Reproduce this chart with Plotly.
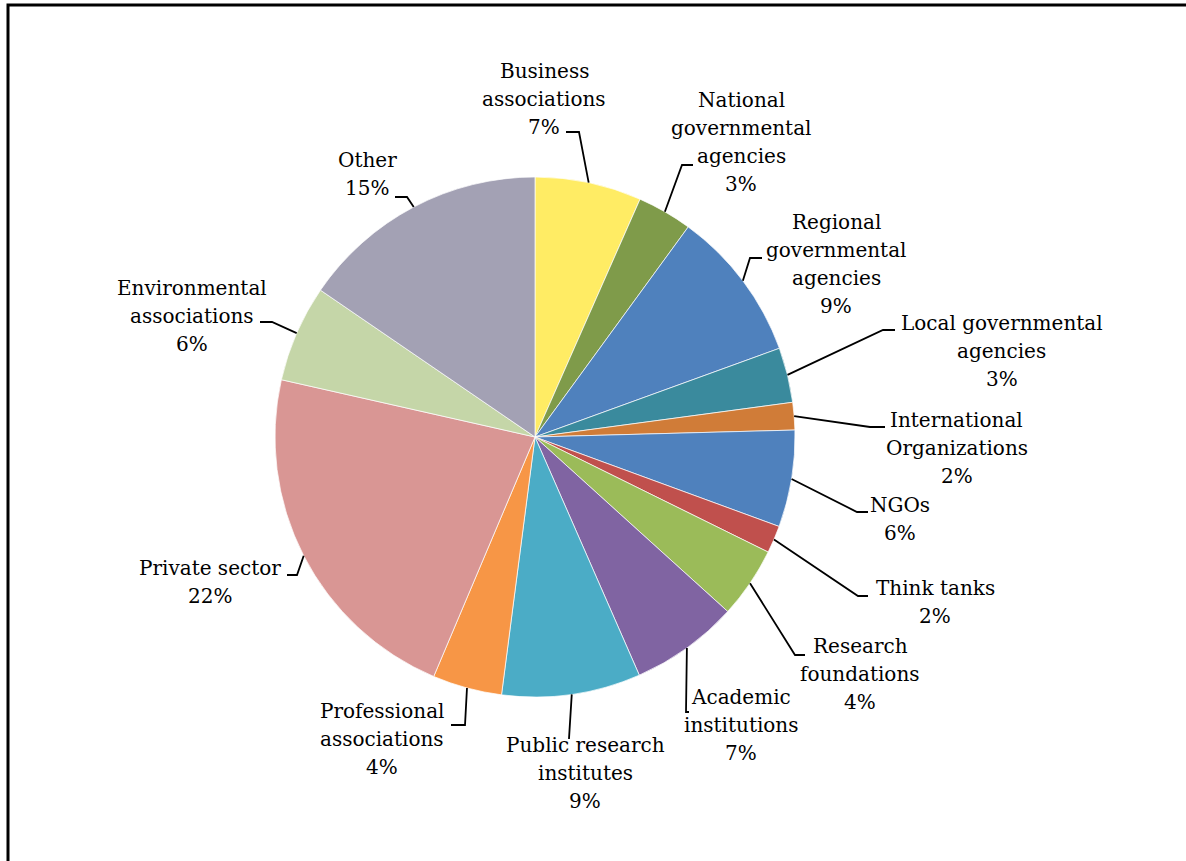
import math
import plotly.graph_objects as go

W, H = 1186, 861

# Respondent types (share of respondents, %), clockwise from 12 o'clock
categories = [
    "Business associations",
    "National governmental agencies",
    "Regional governmental agencies",
    "Local governmental agencies",
    "International Organizations",
    "NGOs",
    "Think tanks",
    "Research foundations",
    "Academic institutions",
    "Public research institutes",
    "Professional associations",
    "Private sector",
    "Environmental associations",
    "Other",
]
shares = [6.6, 3.4, 9.4, 3.4, 1.7, 6.0, 1.7, 4.4, 6.7, 8.6, 4.3, 22.1, 6.0, 15.4]

slice_colors = [
    "#FFEC64", "#7F9B4A", "#4F81BD", "#3A8A9D", "#D07C38", "#4F81BD", "#C0504D",
    "#9BBB59", "#8064A2", "#4BACC6", "#F79646", "#D99694", "#C5D6A8", "#A3A1B4",
]

# How each category name is wrapped in its label
wrapped = {
    "Business associations": ["Business", "associations"],
    "National governmental agencies": ["National", "governmental", "agencies"],
    "Regional governmental agencies": ["Regional", "governmental", "agencies"],
    "Local governmental agencies": ["Local governmental", "agencies"],
    "International Organizations": ["International", "Organizations"],
    "NGOs": ["NGOs"],
    "Think tanks": ["Think tanks"],
    "Research foundations": ["Research", "foundations"],
    "Academic institutions": ["Academic", "institutions"],
    "Public research institutes": ["Public research", "institutes"],
    "Professional associations": ["Professional", "associations"],
    "Private sector": ["Private sector"],
    "Environmental associations": ["Environmental", "associations"],
    "Other": ["Other"],
}

# Label placement in pixels: block centre x, first line y, leader knee, leader end
label_place = [
    (544, 71, (579, 132), (566, 132)),
    (741, 100, (682, 165), (693, 165)),
    (836, 222, (750, 258), (762, 258)),
    (1002, 323, (883, 330), (895, 330)),
    (957, 420, (870, 427), (885, 427)),
    (900, 505, (857, 512), (868, 512)),
    (935, 588, (858, 596), (868, 596)),
    (860, 646, (795, 655), (805, 655)),
    (741, 697, (686, 712), (689, 712)),
    (585, 745, (569, 739), (569, 739)),
    (382, 711, (465, 725), (451, 725)),
    (210, 568, (297, 575), (287, 575)),
    (192, 288, (272, 322), (260, 322)),
    (367, 160, (407, 197), (395, 197)),
]

LINE_STEP = 28
FONT = dict(family="DejaVu Serif", size=20, color="black")

# pie geometry in pixels
CX, CY, R = 535, 437, 260


def px(x):
    return x / W


def py(y):
    return 1 - y / H


fig = go.Figure(
    go.Pie(
        labels=categories,
        values=shares,
        sort=False,
        direction="clockwise",
        rotation=0,
        textinfo="none",
        hoverinfo="label+percent",
        marker=dict(colors=slice_colors, line=dict(color="white", width=0.7)),
        domain=dict(x=[px(CX - R), px(CX + R)], y=[py(CY + R), py(CY - R)]),
        showlegend=False,
    )
)

total = sum(shares)
annotations = []
shapes = []
cum = 0.0
for name, val, (lx, ly, knee, end) in zip(categories, shares, label_place):
    mid = (cum + val / 2) / total * 2 * math.pi
    cum += val
    ex = CX + R * math.sin(mid)
    ey = CY - R * math.cos(mid)
    shapes.append(dict(
        type="path", xref="paper", yref="paper",
        path=f"M {px(ex)},{py(ey)} L {px(knee[0])},{py(knee[1])} L {px(end[0])},{py(end[1])}",
        line=dict(color="black", width=1.8),
    ))
    pct = f"{round(val / total * 100)}%"
    for i, line in enumerate(wrapped[name] + [pct]):
        annotations.append(dict(
            x=px(lx), y=py(ly + i * LINE_STEP), xref="paper", yref="paper",
            text=line, showarrow=False, xanchor="center", yanchor="middle",
            font=FONT,
        ))

# outer frame
shapes.append(dict(
    type="rect", xref="paper", yref="paper",
    x0=px(8), y0=py(5), x1=px(W + 20), y1=py(H + 20),
    line=dict(color="black", width=3), fillcolor="rgba(0,0,0,0)",
))

fig.update_layout(
    width=W, height=H,
    margin=dict(l=0, r=0, t=0, b=0),
    paper_bgcolor="white", plot_bgcolor="white",
    annotations=annotations, shapes=shapes,
)

fig.write_html("out.html")
